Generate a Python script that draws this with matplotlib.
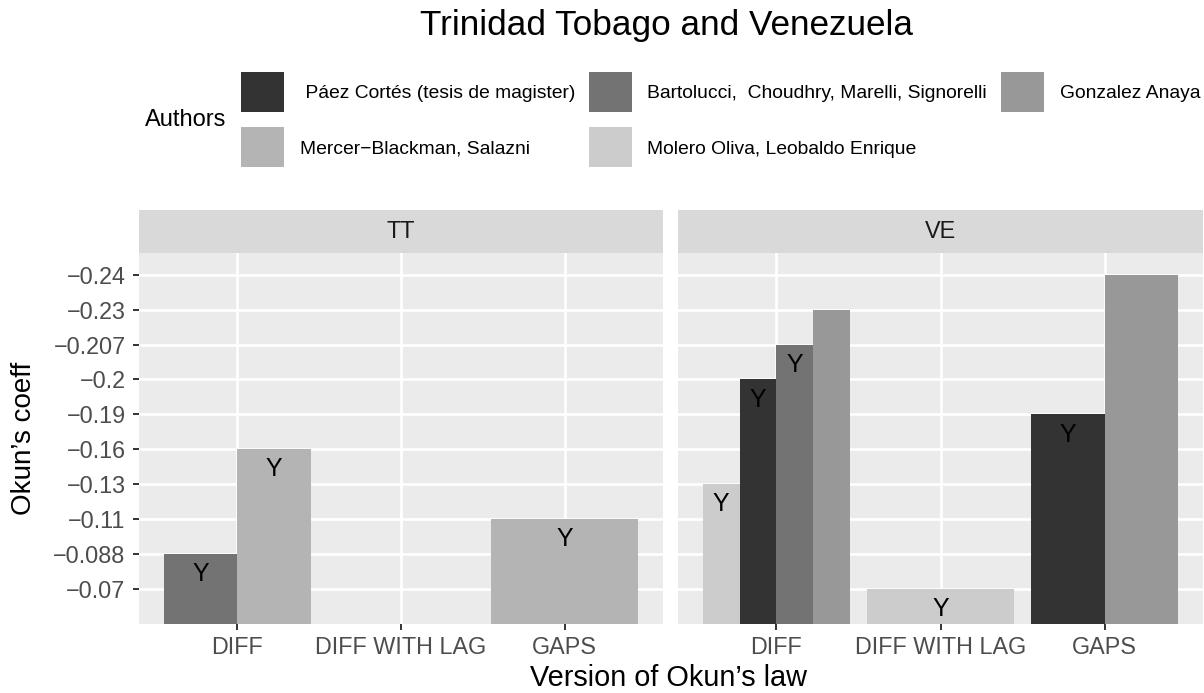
import matplotlib
matplotlib.use("Agg")
import matplotlib.pyplot as plt
from matplotlib.patches import Rectangle

plt.rcParams["font.family"] = ["Liberation Sans", "DejaVu Sans"]

W, H = 1204, 693

# y is a factor in the original: the labels are categories, bars reach their level index
coef_levels = ["−0.07", "−0.088", "−0.11", "−0.13", "−0.16",
               "−0.19", "−0.2", "−0.207", "−0.23", "−0.24"]
versions = ["DIFF", "DIFF WITH LAG", "GAPS"]

authors = [" Páez Cortés (tesis de magister)",
           "Bartolucci,  Choudhry, Marelli, Signorelli",
           "Gonzalez Anaya",
           "Mercer−Blackman, Salazni",
           "Molero Oliva, Leobaldo Enrique"]
author_colors = ["#333333", "#737373", "#989898", "#B4B4B4", "#CCCCCC"]

# Trinidad Tobago
tt_version = ["DIFF", "DIFF", "GAPS"]
tt_author = [1, 3, 3]
tt_coef = ["−0.088", "−0.16", "−0.11"]
tt_label = ["Y", "Y", "Y"]

# Venezuela
ve_version = ["DIFF", "DIFF", "DIFF", "DIFF", "DIFF WITH LAG", "GAPS", "GAPS"]
ve_author = [4, 0, 1, 2, 4, 0, 2]
ve_coef = ["−0.13", "−0.2", "−0.207", "−0.23", "−0.07", "−0.19", "−0.24"]
ve_label = ["Y", "Y", "Y", "", "Y", "Y", ""]


def px(x0, y0, w, h):
    """pixel box (top-left origin) -> figure fraction rect"""
    return [x0 / W, 1 - (y0 + h) / H, w / W, h / H]


def draw_panel(ax, name, vers, auth, coef, lab, show_y):
    ax.set_facecolor("#EBEBEB")
    for vi, v in enumerate(versions):
        idx = [i for i, x in enumerate(vers) if x == v]
        if not idx:
            continue
        w = 0.9 / len(idx)
        for k, i in enumerate(idx):
            xc = vi - 0.45 + w * (k + 0.5)
            h = coef_levels.index(coef[i]) + 1
            ax.bar(xc, h, width=w, color=author_colors[auth[i]], zorder=2)
            if lab[i]:
                ax.annotate(lab[i], (xc, h), xytext=(0, -14.5),
                            textcoords="offset points", ha="center", va="center",
                            fontsize=18, color="black", zorder=3)
    ax.set_xlim(-0.6, 2.6)
    ax.set_ylim(0, 10.62)
    ax.set_xticks(range(len(versions)), versions)
    ax.set_yticks(range(1, len(coef_levels) + 1), coef_levels)
    ax.grid(color="white", linewidth=1.9)
    ax.set_axisbelow(True)
    for s in ax.spines.values():
        s.set_visible(False)
    ax.tick_params(length=4.2, width=1.4, color="#333333", labelcolor="#4D4D4D",
                   labelsize=16.8)
    ax.tick_params(axis="x", pad=4.5)
    ax.tick_params(axis="y", pad=5.5)
    if not show_y:
        ax.tick_params(axis="y", left=False, labelleft=False)

    # facet strip
    sh = 43 / 371
    ax.add_patch(Rectangle((0, 1), 1, sh, transform=ax.transAxes,
                           clip_on=False, facecolor="#D9D9D9", edgecolor="none"))
    ax.text(0.5, 1 + sh / 2, name, transform=ax.transAxes, ha="center",
            va="center", fontsize=16.8, color="#1A1A1A")


fig = plt.figure(figsize=(W / 100, H / 100), dpi=100)

ax_tt = fig.add_axes(px(139, 253, 524, 371))
ax_ve = fig.add_axes(px(678, 253, 525, 371))
draw_panel(ax_tt, "TT", tt_version, tt_author, tt_coef, tt_label, True)
draw_panel(ax_ve, "VE", ve_version, ve_author, ve_coef, ve_label, False)

fig.text(666 / W, 1 - 35.5 / H, "Trinidad Tobago and Venezuela",
         ha="center", va="baseline", fontsize=25.3, color="black")
fig.text(668 / W, 1 - 686 / H, "Version of Okun’s law",
         ha="center", va="baseline", fontsize=20.8, color="black")
fig.text(24 / W, 1 - 438 / H, "Okun’s coeff", rotation=90,
         ha="center", va="center", fontsize=20, color="black")

# legend (ggplot style, title on the left, 2 rows x 3 columns)
fig.text(186 / W, 1 - 120 / H, "Authors", ha="center", va="center",
         fontsize=17, color="black")
key_x = [241, 589, 1001]
lab_x = [300, 647, 1060]
row_y = [72, 127]
for n in range(len(authors)):
    r, c = divmod(n, 3)
    fig.patches.append(Rectangle((key_x[c] / W, 1 - (row_y[r] + 40) / H), 43 / W, 40 / H,
                                 transform=fig.transFigure, facecolor=author_colors[n],
                                 edgecolor="none"))
    fig.text(lab_x[c] / W, 1 - (row_y[r] + 20) / H, authors[n], ha="left",
             va="center_baseline", fontsize=13.9, color="black")

fig.savefig("out.png", dpi=100)
